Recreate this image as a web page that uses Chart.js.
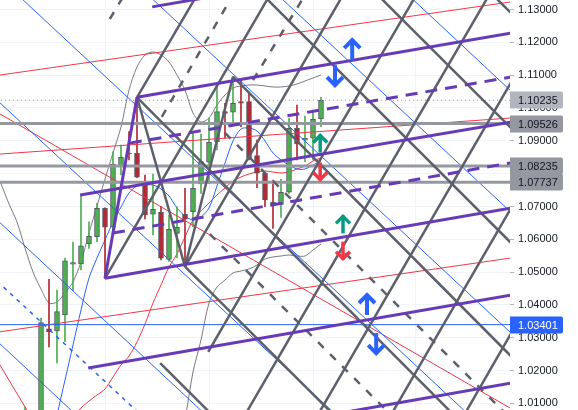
<!DOCTYPE html>
<html>
<head>
<meta charset="utf-8">
<script src="https://cdn.jsdelivr.net/npm/chart.js@4.4.1/dist/chart.umd.min.js"></script>
<style>
    html, body { margin: 0; padding: 0; background: #ffffff; }
    #wrap { width: 578px; height: 410px; position: relative; }
</style>
</head>
<body>
<div id="wrap"><canvas id="fxChart"></canvas></div>
<script>
// ===============================
// CANDLES (x = bar index, prices)
// ===============================
const candleIdx = [-2, 0, 1, 2, 3, 4, 5, 6, 7, 8, 9, 10, 11, 12, 13, 14, 15, 16, 17, 18,
    19, 20, 21, 22, 23, 24, 25, 26, 27, 28, 29, 30, 31, 32, 33, 34, 35];
const opens = [0.9950, 1.0000, 1.03277, 1.03207, 1.03695, 1.05239, 1.05248, 1.05857, 1.06079, 1.06945,
    1.06366, 1.08254, 1.08620, 1.08620, 1.07755, 1.06762, 1.06823, 1.05391, 1.06183, 1.06762,
    1.06841, 1.07685, 1.08346, 1.08973, 1.09887, 1.09869, 1.10192, 1.10192, 1.08547, 1.08011,
    1.07127, 1.07066, 1.07432, 1.09381, 1.09025, 1.09077, 1.09665];
const highs = [1.0089, 1.0360, 1.04782, 1.04456, 1.05431, 1.05918, 1.07350, 1.06536, 1.07097, 1.06960,
    1.08669, 1.08873, 1.09278, 1.10326, 1.07959, 1.07989, 1.06999, 1.06740, 1.06993, 1.07554,
    1.09278, 1.09208, 1.09686, 1.10752, 1.10143, 1.10953, 1.10904, 1.10496, 1.09025, 1.08020,
    1.07807, 1.07828, 1.09686, 1.10091, 1.09756, 1.09939, 1.10326];
const lows = [0.9900, 0.9990, 1.02720, 1.02232, 1.02881, 1.04435, 1.05065, 1.05726, 1.05927, 1.04812,
    1.06284, 1.07959, 1.08416, 1.07880, 1.06619, 1.06131, 1.05370, 1.05324, 1.05431, 1.05166,
    1.06384, 1.07401, 1.07706, 1.08720, 1.09077, 1.09582, 1.09430, 1.08416, 1.07572, 1.06993,
    1.06335, 1.06670, 1.07401, 1.08416, 1.08364, 1.08416, 1.09430];
const closes = [1.0060, 1.0346, 1.03186, 1.03795, 1.05348, 1.05288, 1.05805, 1.06092, 1.06945, 1.06366,
    1.08285, 1.08498, 1.08605, 1.07889, 1.06740, 1.06914, 1.05422, 1.06305, 1.06366, 1.06610,
    1.07554, 1.08364, 1.08955, 1.09887, 1.09838, 1.10143, 1.10143, 1.08468, 1.08011, 1.07198,
    1.07024, 1.07432, 1.09381, 1.08903, 1.09077, 1.09656, 1.10235];

// ===============================
// INDICATORS (first bar index + values)
// ===============================
const maRedStart = 3;
const maRed = [1.00344, 1.00618, 1.00862, 1.01075, 1.01258, 1.01441, 1.01806, 1.02172, 1.02446, 1.02873,
    1.03421, 1.04060, 1.04608, 1.05157, 1.05553, 1.06071, 1.06588, 1.06862, 1.07106, 1.07350,
    1.07563, 1.07776, 1.07898, 1.07989, 1.08050, 1.08081, 1.08050, 1.08020, 1.08050, 1.08142,
    1.08233, 1.08385, 1.08477];
const maBlueStart = 2;
const maBlue = [1.00648, 1.01714, 1.02781, 1.03847, 1.04821, 1.05431, 1.05979, 1.06527, 1.06984, 1.07411,
    1.07624, 1.07654, 1.07654, 1.07532, 1.07319, 1.06954, 1.06710, 1.06588, 1.06680, 1.06954,
    1.07624, 1.08325, 1.08995, 1.09360, 1.09391, 1.09299, 1.08995, 1.08629, 1.08416, 1.08264,
    1.08142, 1.08142, 1.08264, 1.08386];
const bandUpperStart = -6;
const bandUpper = [1.0811, 1.07685, 1.07076, 1.06527, 1.05735, 1.05004, 1.04486, 1.04060, 1.04091, 1.04365,
    1.04700, 1.05309, 1.06193, 1.07015, 1.07837, 1.08629, 1.09421, 1.10548, 1.11249, 1.11614,
    1.11706, 1.11614, 1.11401, 1.11005, 1.10548, 1.09847, 1.09573, 1.09695, 1.10091, 1.10396,
    1.10609, 1.10670, 1.10700, 1.10700, 1.10670, 1.10640, 1.10640, 1.10670, 1.10731, 1.10822,
    1.10914, 1.11005];
const bandLowerStart = 17;
const bandLower = [0.99278, 1.00496, 1.01958, 1.02933, 1.04060, 1.04547, 1.04760, 1.04974, 1.05035, 1.05096,
    1.05218, 1.05400, 1.05461, 1.05492, 1.05522, 1.05492, 1.05492, 1.05674, 1.05857];

// ===============================
// DRAWINGS  [barIdx1, price1, barIdx2, price2]
// ===============================
const purpleSolid = [
    [13.9, 1.1308, 58.7, 1.1495],
    [12, 1.10326, 58.7, 1.1228],
    [4.9, 1.0735, 58.7, 1.0957],
    [8, 1.04812, 58.7, 1.0695],
    [5.9, 1.0208, 58.7, 1.0430],
    [30, 1.0039, 58.7, 1.0162],
    [8, 1.04812, 12, 1.10326]
];
const purpleDashed = [
    [11.1, 1.0893, 58.7, 1.1094],
    [9, 1.0619, 58.7, 1.0833]
];
const grayUp = [
    [8, 1.04812, 28.6, 1.1344],
    [12, 1.10326, 19.5, 1.1344],
    [18, 1.05166, 37.75, 1.1344],
    [20.9, 1.0257, 46.9, 1.1344],
    [25.5, 1.0065, 56, 1.1344],
    [34.6, 1.0065, 59, 1.1088],
    [43.75, 1.0065, 59, 1.0705],
    [52.9, 1.0065, 59, 1.0324],
    [12, 1.10326, 18, 1.05166],
    [18, 1.05166, 24, 1.10953]
];
const grayDown = [
    [12, 1.10326, 51.6, 1.0065],
    [24, 1.10953, 59, 1.0238],
    [18, 1.05166, 36.6, 1.0065],
    [14.9, 1.0223, 21.4, 1.0065],
    [27.75, 1.1344, 59, 1.0583],
    [42.1, 1.1344, 59, 1.0933],
    [56.5, 1.1344, 59, 1.1283]
];
const grayDashed = [
    [15.1, 1.0973, 24, 1.1344],
    [26.5, 1.1085, 33, 1.1344],
    [8.6, 1.1271, 10.4, 1.1344],
    [23, 1.0924, 58.25, 1.0065],
    [21.1, 1.0616, 43.75, 1.0065]
];
const blueDiag = [
    [45.9, 1.1344, 59, 1.1046],
    [29.6, 1.1344, 59, 1.0677],
    [13.4, 1.1344, 59, 1.0309],
    [-2.9, 1.1344, 53.5, 1.0065],
    [-5.5, 1.1024, 36.9, 1.0065],
    [-5.5, 1.0659, 20.6, 1.0065],
    [-5.5, 1.0290, 4.4, 1.0065]
];
const blueDashed = [[-5.5, 1.0473, 12.5, 1.0065]];
const redLines = [
    [-5.5, 1.1099, 59, 1.1324],
    [-5.5, 1.0859, 59, 1.0970],
    [-5.5, 1.0317, 59, 1.0544],
    [-5.5, 1.0987, 59, 1.0081],
    [-5.5, 1.0232, -1.4, 1.0065]
];

// horizontal levels
const grayLevels = [1.09526, 1.08235, 1.07737];
const lastPrice = 1.10235;
const blueLevel = 1.03401;

// arrows
const arrowIdx = [38.9, 36.75, 34.9, 34.9, 37.75, 37.75, 40.75, 41.9];
const arrowPrice = [1.1176, 1.1100, 1.0890, 1.0808, 1.0644, 1.0567, 1.0400, 1.0284];
const arrowDir = ['up', 'down', 'up', 'down', 'up', 'down', 'up', 'down'];
const arrowKind = ['blue', 'blue', 'green', 'red', 'green', 'red', 'blue', 'blue'];

// axis
const priceTicks = [1.01, 1.02, 1.03, 1.04, 1.05, 1.06, 1.07, 1.08, 1.09, 1.10, 1.11, 1.12, 1.13];
const timeGrid = [8, 21, 34, 46.75];
const priceLabels = [lastPrice, 1.09526, 1.08235, 1.07737, blueLevel];

// ===============================
// DATASETS
// ===============================
const GREEN = '#4caf50';
const RED = '#b22833';
const candleColors = candleIdx.map((_, i) => closes[i] >= opens[i] ? GREEN : RED);

function segment(seg, color, width, dash, order) {
    return {
        type: 'line',
        data: [{ x: seg[0], y: seg[1] }, { x: seg[2], y: seg[3] }],
        borderColor: color,
        borderWidth: width,
        borderDash: dash,
        pointRadius: 0,
        tension: 0,
        fill: false,
        order: order
    };
}

function curve(start, values, color, order) {
    return {
        type: 'line',
        data: values.map((v, i) => ({ x: start + i, y: v })),
        borderColor: color,
        borderWidth: 1,
        pointRadius: 0,
        tension: 0.3,
        fill: false,
        order: order
    };
}

const datasets = [];

datasets.push(curve(bandUpperStart, bandUpper, '#787b86', 60));
datasets.push(curve(bandLowerStart, bandLower, '#787b86', 60));
datasets.push(curve(maBlueStart, maBlue, '#2962ff', 59));
datasets.push(curve(maRedStart, maRed, '#f23645', 59));

datasets.push({
    type: 'bar',
    data: candleIdx.map((x, i) => ({ x: x, y: [lows[i], highs[i]] })),
    backgroundColor: candleColors,
    borderWidth: 0,
    barThickness: 1,
    grouped: false,
    order: 51
});
datasets.push({
    type: 'bar',
    data: candleIdx.map((x, i) => ({ x: x, y: [opens[i], closes[i]] })),
    backgroundColor: candleColors,
    borderColor: '#555a63',
    borderWidth: 1,
    borderSkipped: false,
    barThickness: 5,
    grouped: false,
    order: 50
});

blueDiag.forEach(s => datasets.push(segment(s, '#2962ff', 1, [], 40)));
blueDashed.forEach(s => datasets.push(segment(s, '#2962ff', 1.5, [4, 5], 40)));
redLines.forEach(s => datasets.push(segment(s, '#f23645', 1, [], 40)));

grayLevels.forEach(p => datasets.push(segment([-6, p, 60, p], '#9598a1', 3, [], 35)));
datasets.push(segment([-6, lastPrice, 60, lastPrice], '#9598a1', 1, [1, 3], 35));
datasets.push(segment([-6, blueLevel, 60, blueLevel], '#2962ff', 1, [], 35));

grayUp.forEach(s => datasets.push(segment(s, '#5d606b', 2.5, [], 20)));
grayDown.forEach(s => datasets.push(segment(s, '#5d606b', 2.5, [], 20)));
grayDashed.forEach(s => datasets.push(segment(s, '#5d606b', 2.5, [8, 9], 20)));

purpleSolid.forEach(s => datasets.push(segment(s, '#673ab7', 3, [], 10)));
purpleDashed.forEach(s => datasets.push(segment(s, '#673ab7', 3, [12, 8], 10)));

// ===============================
// ARROWS + PRICE LABELS
// ===============================
const FONT = '11px "Liberation Sans", Arial, sans-serif';

const overlay = {
    id: 'overlay',
    afterDraw(chart) {
        const c = chart.ctx;
        const xs = chart.scales.x;
        const ys = chart.scales.y;
        const area = chart.chartArea;

        c.save();
        arrowIdx.forEach((v, i) => {
            const x = xs.getPixelForValue(v);
            const y = ys.getPixelForValue(arrowPrice[i]);
            const big = arrowKind[i] === 'blue';
            const color = big ? '#2962ff' : (arrowKind[i] === 'green' ? '#089981' : '#f23645');
            const h = big ? 20 : 17;
            const w = big ? 8 : 7;
            const s = arrowDir[i] === 'up' ? -1 : 1;
            const tip = y + s * h / 2;
            c.strokeStyle = color;
            c.lineWidth = big ? 4 : 3.5;
            c.lineCap = 'butt';
            c.lineJoin = 'miter';
            c.beginPath();
            c.moveTo(x, y - s * h / 2);
            c.lineTo(x, tip + s * 1);
            c.stroke();
            c.beginPath();
            c.moveTo(x - w, tip - s * w);
            c.lineTo(x, tip);
            c.lineTo(x + w, tip - s * w);
            c.stroke();
        });

        c.font = FONT;
        c.textBaseline = 'middle';
        c.textAlign = 'left';
        priceLabels.forEach((p, i) => {
            const y = Math.round(ys.getPixelForValue(p));
            let bg = '#9598a1';
            let fg = '#131722';
            if (i === 0) bg = '#b2b5be';
            if (p === blueLevel) { bg = '#2962ff'; fg = '#ffffff'; }
            c.fillStyle = bg;
            c.beginPath();
            c.roundRect(area.right, y - 8.5, 53, 17, [0, 2, 2, 0]);
            c.fill();
            c.fillStyle = fg;
            c.fillText(p.toFixed(5), area.right + 8, y + 0.5);
        });
        c.restore();
    }
};

// ===============================
// CHART
// ===============================
const fxCtx = document.getElementById('fxChart');
new Chart(fxCtx, {
    type: 'bar',
    data: { datasets: datasets },
    options: {
        responsive: true,
        maintainAspectRatio: false,
        animation: false,
        layout: { padding: 0 },
        plugins: {
            legend: { display: false },
            tooltip: { enabled: false }
        },
        scales: {
            x: {
                type: 'linear',
                min: -5.125,
                max: 58.625,
                offset: false,
                grid: { color: '#f0f3fa', drawTicks: false, offset: false },
                border: { display: false },
                ticks: { display: false },
                afterBuildTicks: s => { s.ticks = timeGrid.map(v => ({ value: v })); },
                afterFit: s => { s.height = 0; }
            },
            y: {
                position: 'right',
                min: 1.00801,
                max: 1.13289,
                grid: { color: '#f0f3fa', tickLength: 4, tickColor: '#b2b5be' },
                border: { display: false },
                ticks: {
                    padding: 4,
                    color: '#131722',
                    font: { family: '"Liberation Sans", Arial, sans-serif', size: 11 },
                    callback: v => v.toFixed(5)
                },
                afterBuildTicks: s => { s.ticks = priceTicks.map(v => ({ value: v })); },
                afterFit: s => { s.width = 68; s.paddingTop = 0; s.paddingBottom = 0; }
            }
        }
    },
    plugins: [overlay]
});
</script>
</body>
</html>
